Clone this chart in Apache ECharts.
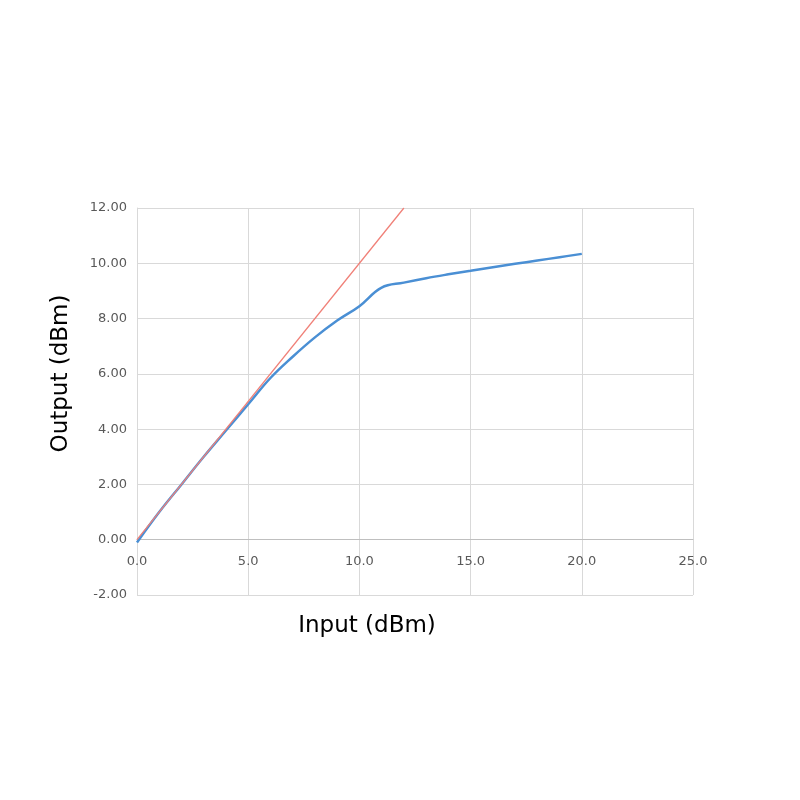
<!DOCTYPE html>
<html>
<head>
<meta charset="utf-8">
<script src="https://cdn.jsdelivr.net/npm/echarts@6/dist/echarts.min.js"></script>
<style>
  html, body { margin: 0; padding: 0; background: #fff; }
  #chart { width: 800px; height: 800px; }
</style>
</head>
<body>
<div id="chart"></div>
<script>
  // measured output vs input (dBm)
  var inputDbm = [0, 1, 2, 3, 4, 5, 6, 7, 8, 9, 10, 11, 12, 13, 14, 15, 16, 17, 18, 19, 20];
  var outputDbm = [-0.1, 1.0, 2.0, 3.0, 3.95, 4.9, 5.85, 6.62, 7.32, 7.93, 8.45, 9.12, 9.3, 9.46, 9.6, 9.73, 9.86, 9.98, 10.1, 10.22, 10.34];
  // ideal linear gain line
  var idealX = [0, 12];
  var idealY = [0, 12];

  var chart = echarts.init(document.getElementById('chart'));

  var blue = [], red = [];
  for (var i = 0; i < inputDbm.length; i++) blue.push([inputDbm[i], outputDbm[i]]);
  for (var j = 0; j < idealX.length; j++) red.push([idealX[j], idealY[j]]);

  var font = '"DejaVu Sans", sans-serif';

  chart.setOption({
    animation: false,
    grid: { left: 137, right: 107, top: 208, bottom: 205 },
    xAxis: {
      type: 'value',
      min: 0, max: 25, interval: 5,
      name: 'Input (dBm)',
      nameLocation: 'middle',
      nameGap: 20,
      nameTextStyle: { fontSize: 23, color: '#000', fontFamily: font, padding: [0, 96, 0, 0] },
      axisLine: { onZero: true, lineStyle: { color: '#bfbfbf', width: 1 } },
      axisTick: { show: false },
      axisLabel: {
        color: '#595959', fontSize: 13, fontFamily: font, margin: -40,
        formatter: function (v) { return v.toFixed(1); }
      },
      splitLine: { show: true, lineStyle: { color: '#d9d9d9', width: 1 } }
    },
    yAxis: {
      type: 'value',
      min: -2, max: 12, interval: 2,
      name: 'Output (dBm)',
      nameLocation: 'middle',
      nameGap: 64,
      nameTextStyle: { fontSize: 23, color: '#000', fontFamily: font, padding: [0, 0, 0, 56] },
      axisLine: { show: true, onZero: false, lineStyle: { color: '#d9d9d9', width: 1 } },
      axisTick: { show: false },
      axisLabel: {
        color: '#595959', fontSize: 13, fontFamily: font, margin: 10,
        formatter: function (v) { return v.toFixed(2); }
      },
      splitLine: { show: true, lineStyle: { color: '#d9d9d9', width: 1 } }
    },
    series: [
      {
        type: 'line',
        data: red,
        showSymbol: false,
        lineStyle: { color: '#f08078', width: 1.3 },
        z: 3
      },
      {
        type: 'line',
        data: blue,
        smooth: 0.4,
        showSymbol: false,
        lineStyle: { color: '#4a8fd4', width: 2.5 },
        z: 2
      }
    ]
  });
</script>
</body>
</html>
